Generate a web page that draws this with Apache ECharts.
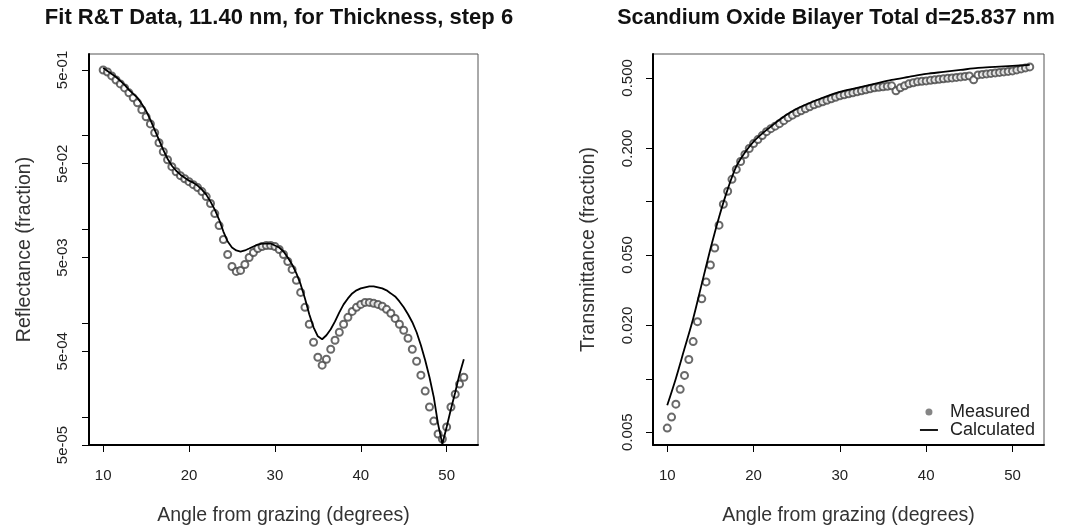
<!DOCTYPE html>
<html><head><meta charset="utf-8">
<script src="https://cdn.jsdelivr.net/npm/echarts@6/dist/echarts.min.js"></script>
<style>html,body{margin:0;padding:0;background:#fff}#c{width:1083px;height:531px}</style>
</head><body><div id="c"></div>
<script>
// ---- data ----
const anglesHalf = [10,10.5,11,11.5,12,12.5,13,13.5,14,14.5,15,15.5,16,16.5,17,17.5,18,18.5,19,19.5,20,20.5,21,21.5,22,22.5,23,23.5,24,24.5,25,25.5,26,26.5,27,27.5,28,28.5,29,29.5,30,30.5,31,31.5,32,32.5,33,33.5,34,34.5,35,35.5,36,36.5,37,37.5,38,38.5,39,39.5,40,40.5,41,41.5,42,42.5,43,43.5,44,44.5,45,45.5,46,46.5,47,47.5,48,48.5,49,49.5,50,50.5,51,51.5,52];
const reflMeasured = [0.500,0.476,0.432,0.391,0.355,0.322,0.285,0.252,0.223,0.188,0.158,0.133,0.107,0.0837,0.0671,0.0552,0.0465,0.0411,0.0373,0.0346,0.0322,0.0299,0.0278,0.0252,0.0223,0.0188,0.0147,0.01095,0.00777,0.00538,0.00401,0.00355,0.00364,0.00421,0.00500,0.00565,0.00623,0.00655,0.00671,0.00671,0.00655,0.00608,0.00538,0.00453,0.00373,0.00285,0.00212,0.00147,0.000969,0.000623,0.000432,0.000355,0.000411,0.000525,0.000655,0.000797,0.000969,0.00115,0.00133,0.00147,0.00158,0.00166,0.00166,0.00162,0.00158,0.00151,0.00140,0.00127,0.00112,0.000969,0.000837,0.000688,0.000525,0.000391,0.000278,0.000188,0.000127,0.0000900,0.0000655,0.0000579,0.0000777,0.000127,0.000174,0.000223,0.000264];
const reflCalculated = [0.525,0.488,0.453,0.421,0.382,0.346,0.306,0.278,0.252,0.217,0.183,0.147,0.115,0.0900,0.0704,0.0565,0.0476,0.0421,0.0382,0.0355,0.0330,0.0314,0.0292,0.0265,0.0234,0.0197,0.0162,0.0127,0.00945,0.00740,0.00639,0.00594,0.00579,0.00594,0.00623,0.00655,0.00687,0.00704,0.00704,0.00704,0.00671,0.00639,0.00579,0.00500,0.00421,0.00338,0.00258,0.00183,0.00124,0.000900,0.000722,0.000671,0.000740,0.000857,0.00104,0.00130,0.00158,0.00183,0.00207,0.00223,0.00234,0.00240,0.00246,0.00246,0.00240,0.00234,0.00223,0.00207,0.00192,0.00170,0.00147,0.00124,0.00102,0.000797,0.000579,0.000401,0.000264,0.000162,0.0000836,0.0000512,0.0000777,0.000121,0.000183,0.000285,0.000411];
const transMeasured = [0.00527,0.00608,0.00719,0.00872,0.01045,0.01285,0.01623,0.02102,0.02829,0.03526,0.04393,0.05476,0.0737,0.0967,0.1145,0.1337,0.1521,0.1687,0.1846,0.1996,0.2129,0.2242,0.2361,0.2486,0.2585,0.2670,0.2757,0.2867,0.2980,0.3079,0.3179,0.3263,0.3348,0.3436,0.3527,0.3595,0.3666,0.3738,0.3812,0.3887,0.3961,0.4013,0.4065,0.4118,0.4172,0.4226,0.4281,0.4337,0.4393,0.4422,0.4451,0.4480,0.4509,0.4226,0.4393,0.4509,0.4627,0.4687,0.4747,0.4778,0.4809,0.4841,0.4872,0.4904,0.4936,0.4968,0.5000,0.5032,0.5065,0.5098,0.5131,0.4872,0.5198,0.5232,0.5266,0.5300,0.5334,0.5369,0.5404,0.5439,0.5474,0.5545,0.5618,0.5691,0.5765];
const transCalcAngles = [10,11,12,13,14,15,16,17,18,19,20,21,22,23,24,25,26,28,30,32,34,36,38,40,42,44,46,48,50,52];
const transCalculated = [0.00709,0.01005,0.01482,0.02185,0.03437,0.0540,0.0818,0.1174,0.1581,0.1895,0.2185,0.2423,0.2652,0.2904,0.3137,0.3348,0.3527,0.3862,0.4172,0.4393,0.4627,0.4872,0.5065,0.5266,0.5404,0.5545,0.5691,0.5765,0.5840,0.5916];

const xTicks = [10,20,30,40,50];
const reflTicks = [5e-1,1e-1,5e-2,1e-2,5e-3,1e-3,5e-4,1e-4,5e-5];
const reflLabelValues = [5e-1,5e-2,5e-3,5e-4,5e-5];
const reflTickLabels = ['5e-01','5e-02','5e-03','5e-04','5e-05'];
const transTicks = [0.5,0.2,0.1,0.05,0.02,0.01,0.005];
const transLabelValues = [0.5,0.2,0.05,0.02,0.005];
const transTickLabels = ['0.500','0.200','0.050','0.020','0.005'];

const reflRange = [5e-5, 0.74];
const transRange = [0.00423, 0.682];
const xRange = [8.35, 53.65];

// ---- chart ----
const FONT = '"Liberation Sans", Arial, sans-serif';
const chart = echarts.init(document.getElementById('c'), null, {renderer: 'canvas'});

function xAxisCfg(gi) {
  return {
    gridIndex: gi, type: 'value', min: xRange[0], max: xRange[1],
    name: 'Angle from grazing (degrees)', nameLocation: 'middle', nameGap: 61,
    nameTextStyle: {fontFamily: FONT, fontSize: 19.5, color: '#333'},
    axisLine: {show: true, onZero: false, lineStyle: {color: '#000', width: 2}},
    axisTick: {show: true, length: 7, inside: false, customValues: xTicks, lineStyle: {color: '#000', width: 1}},
    axisLabel: {show: true, customValues: xTicks, margin: 23, fontFamily: FONT, fontSize: 15, color: '#222'},
    splitLine: {show: false}
  };
}
function logAxisCfg(gi, range) {
  return {gridIndex: gi, type: 'log', logBase: 10, min: range[0], max: range[1], show: false,
          axisLine: {onZero: false}, splitLine: {show: false}};
}
function overlayAxisCfg(gi, range, ticks, labVals, labTexts, name, margin, nameGap) {
  return {
    gridIndex: gi, type: 'value', position: 'left',
    min: Math.log10(range[0]), max: Math.log10(range[1]),
    name: name, nameLocation: 'middle', nameGap: nameGap, nameRotate: 90,
    nameTextStyle: {fontFamily: FONT, fontSize: 19.5, color: '#333'},
    axisLine: {show: true, onZero: false, lineStyle: {color: '#000', width: 2}},
    axisTick: {show: true, length: 7, customValues: ticks.map(Math.log10), lineStyle: {color: '#000', width: 1}},
    axisLabel: {
      show: true, rotate: 90, margin: margin, fontFamily: FONT, fontSize: 15, color: '#222',
      customValues: labVals.map(Math.log10),
      formatter: function (v) {
        const i = labVals.findIndex(t => Math.abs(Math.log10(t) - v) < 1e-6);
        return i >= 0 ? labTexts[i] : '';
      }
    },
    splitLine: {show: false}
  };
}

const option = {
  backgroundColor: '#fff',
  animation: false,
  graphic: [
    {type: 'text', x: 279, y: 7, style: {text: 'Fit R&T Data, 11.40 nm, for Thickness, step 6',
      font: 'bold 22px ' + FONT, fill: '#111', textAlign: 'center', align: 'center', textVerticalAlign: 'top', verticalAlign: 'top'}},
    {type: 'text', x: 836, y: 7, style: {text: 'Scandium Oxide Bilayer Total d=25.837 nm',
      font: 'bold 21.5px ' + FONT, fill: '#111', textAlign: 'center', align: 'center', textVerticalAlign: 'top', verticalAlign: 'top'}}
  ],
  grid: [
    {left: 89, top: 54, width: 389, height: 392, show: true, borderColor: '#555', borderWidth: 1, backgroundColor: 'transparent'},
    {left: 653, top: 54, width: 391, height: 393, show: true, borderColor: '#555', borderWidth: 1, backgroundColor: 'transparent'}
  ],
  xAxis: [xAxisCfg(0), xAxisCfg(1)],
  yAxis: [
    logAxisCfg(0, reflRange),
    overlayAxisCfg(0, reflRange, reflTicks, reflLabelValues, reflTickLabels, 'Reflectance (fraction)', 19, 54),
    logAxisCfg(1, transRange),
    overlayAxisCfg(1, transRange, transTicks, transLabelValues, transTickLabels, 'Transmittance (fraction)', 18, 54)
  ],
  legend: {
    orient: 'vertical', right: 43, top: 398, itemGap: 0, itemWidth: 18, itemHeight: 7,
    selectedMode: false,
    textStyle: {fontFamily: FONT, fontSize: 18, lineHeight: 16.5, color: '#222', padding: [0, 0, 0, 7]},
    data: [
      {name: 'Measured', icon: 'circle', itemStyle: {color: '#666', borderWidth: 0}},
      {name: 'Calculated', itemStyle: {color: 'rgba(0,0,0,0)', borderColor: 'rgba(0,0,0,0)', borderWidth: 0},
       lineStyle: {color: '#000', width: 1.8}}
    ]
  },
  series: [
    {name: 'Measured', type: 'scatter', xAxisIndex: 0, yAxisIndex: 0,
     symbol: 'emptyCircle', symbolSize: 7, itemStyle: {color: '#444', borderWidth: 1}, z: 2,
     data: anglesHalf.map((a, i) => [a, reflMeasured[i]])},
    {name: 'Calculated', type: 'line', xAxisIndex: 0, yAxisIndex: 0, symbol: 'none', z: 3,
     itemStyle: {color: '#000'}, lineStyle: {color: '#000', width: 1.8},
     data: anglesHalf.map((a, i) => [a, reflCalculated[i]])},
    {name: 'Measured', type: 'scatter', xAxisIndex: 1, yAxisIndex: 2,
     symbol: 'emptyCircle', symbolSize: 7, itemStyle: {color: '#444', borderWidth: 1}, z: 2,
     data: anglesHalf.map((a, i) => [a, transMeasured[i]])},
    {name: 'Calculated', type: 'line', xAxisIndex: 1, yAxisIndex: 2, symbol: 'none', z: 3,
     smooth: 0.3, itemStyle: {color: '#000'}, lineStyle: {color: '#000', width: 1.8},
     data: transCalcAngles.map((a, i) => [a, transCalculated[i]])}
  ]
};
chart.setOption(option);
</script>
</body></html>
